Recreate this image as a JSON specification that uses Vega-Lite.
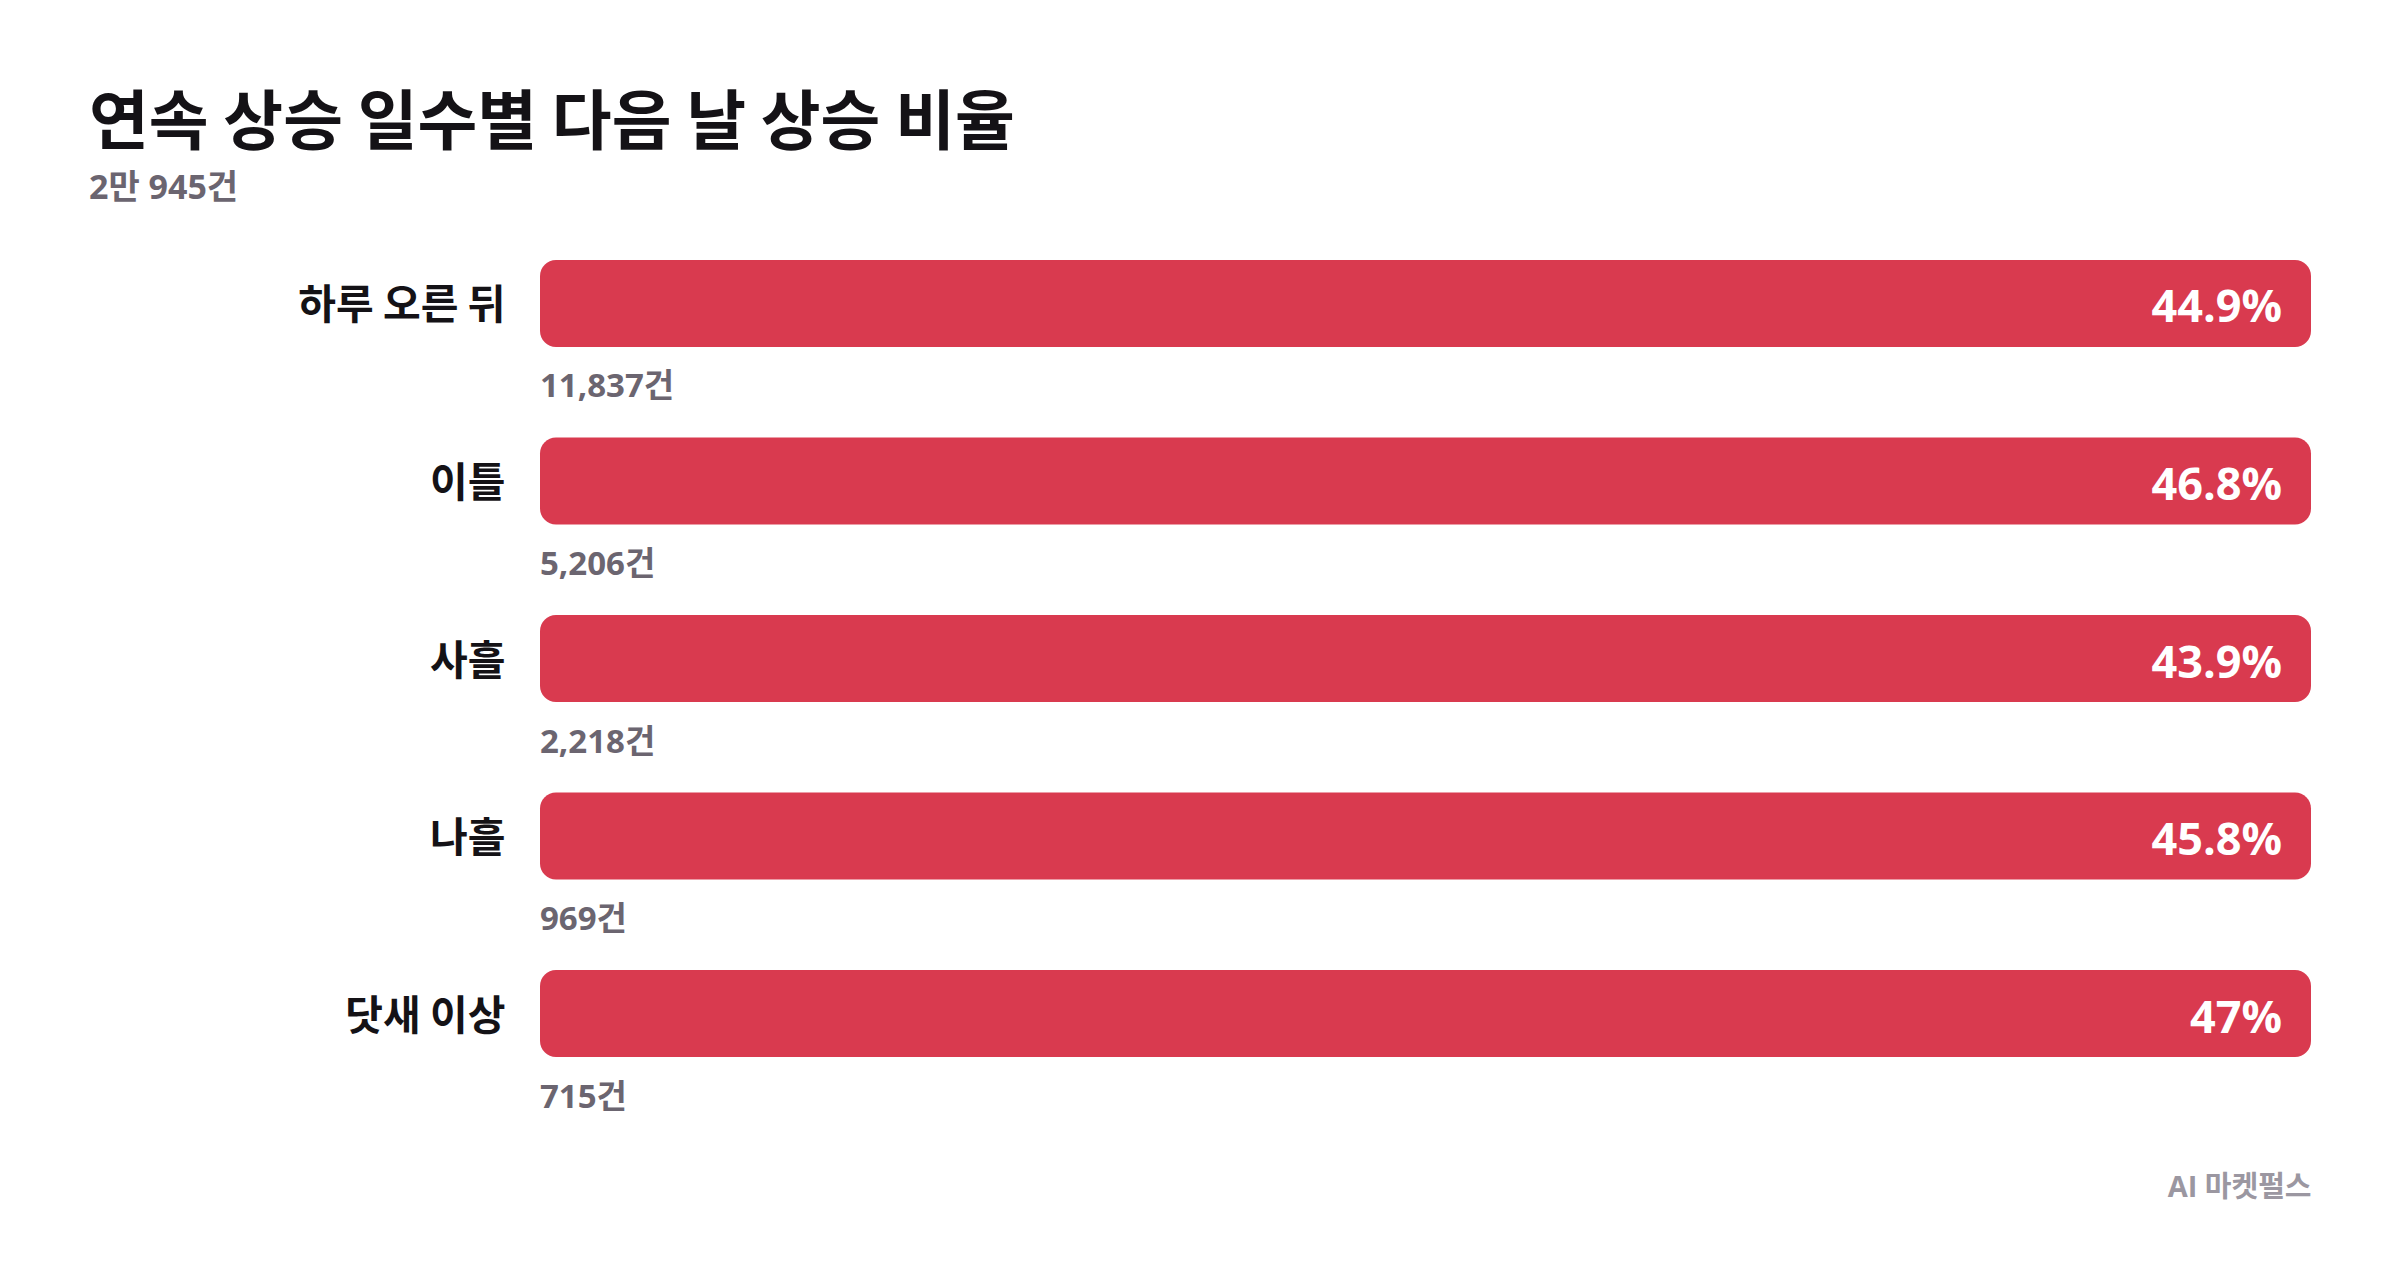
{
  "$schema": "https://vega.github.io/schema/vega-lite/v6.json",
  "width": 1771,
  "height": 797,
  "autosize": "none",
  "padding": {"left": 540, "top": 260, "right": 89, "bottom": 229},
  "background": "white",
  "title": {
    "text": "연속 상승 일수별 다음 날 상승 비율",
    "subtitle": "2만 945건",
    "anchor": "start",
    "frame": "group",
    "dx": -451,
    "offset": 53,
    "font": "Noto Sans CJK KR",
    "fontSize": 65,
    "fontWeight": "bold",
    "color": "#141216",
    "subtitleFont": "Open Sans, Noto Sans CJK KR",
    "subtitleFontSize": 34,
    "subtitleFontWeight": "bold",
    "subtitleColor": "#6b6570",
    "subtitlePadding": 14
  },
  "data": {
    "values": [
      {"streak": "하루 오른 뒤", "rate": 0.449, "n": 11837},
      {"streak": "이틀", "rate": 0.468, "n": 5206},
      {"streak": "사흘", "rate": 0.439, "n": 2218},
      {"streak": "나흘", "rate": 0.458, "n": 969},
      {"streak": "닷새 이상", "rate": 0.47, "n": 715}
    ]
  },
  "transform": [
    {"calculate": "format(datum.n, ',') + '건'", "as": "n_label"}
  ],
  "encoding": {
    "y": {
      "field": "streak",
      "type": "nominal",
      "sort": null,
      "scale": {"paddingInner": 0.51, "paddingOuter": 0},
      "axis": {
        "title": null,
        "ticks": false,
        "domain": false,
        "labelPadding": 35,
        "labelLimit": 0,
        "labelOffset": 4,
        "labelFont": "Noto Sans CJK KR",
        "labelFontSize": 41,
        "labelFontWeight": "bold",
        "labelColor": "#141216"
      }
    }
  },
  "layer": [
    {
      "mark": {"type": "bar", "color": "#d93a4f", "cornerRadius": 16},
      "encoding": {
        "x": {
          "datum": 0,
          "type": "quantitative",
          "scale": {"domain": [0, 1]},
          "axis": {
            "labels": false,
            "ticks": false,
            "domain": false,
            "grid": false,
            "title": "AI 마켓펄스",
            "titleAnchor": "end",
            "titlePadding": 116,
            "titleFont": "Open Sans, Noto Sans CJK KR",
            "titleFontSize": 29,
            "titleFontWeight": "bold",
            "titleColor": "#9b97a1"
          }
        },
        "x2": {"datum": 1}
      }
    },
    {
      "mark": {
        "type": "text",
        "align": "right",
        "baseline": "middle",
        "dx": -29,
        "dy": 5,
        "font": "Open Sans",
        "fontSize": 45,
        "fontWeight": "bold",
        "color": "white"
      },
      "encoding": {
        "x": {"datum": 1, "type": "quantitative"},
        "text": {"field": "rate", "type": "quantitative", "format": ".1~%"}
      }
    },
    {
      "mark": {
        "type": "text",
        "align": "left",
        "baseline": "middle",
        "dy": 84,
        "font": "Open Sans, Noto Sans CJK KR",
        "fontSize": 33,
        "fontWeight": "bold",
        "color": "#6b6570"
      },
      "encoding": {
        "x": {"datum": 0, "type": "quantitative"},
        "text": {"field": "n_label", "type": "nominal"}
      }
    }
  ],
  "config": {
    "view": {"stroke": null}
  }
}
